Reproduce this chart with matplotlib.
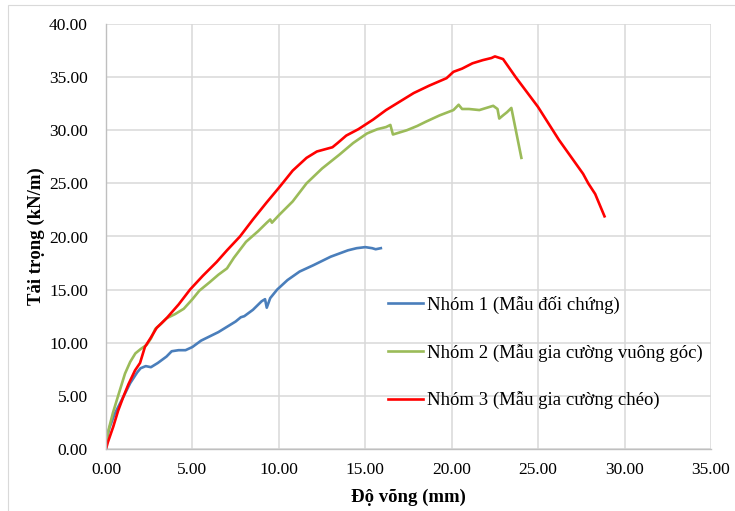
import matplotlib
matplotlib.use("Agg")
import matplotlib.pyplot as plt
from matplotlib.patches import Rectangle

# ---- data ----
blue_x = [0, 0.05, 0.2, 0.5, 1.0, 1.4, 1.8, 2.0, 2.3, 2.6, 3.0, 3.5, 3.8, 4.2, 4.6, 5.0, 5.5, 6.0, 6.5,
          7.0, 7.5, 7.8, 8.0, 8.5, 9.0, 9.2, 9.3, 9.5, 9.9, 10.5, 11.2, 12.0, 12.5, 13.0, 13.5, 14.0,
          14.5, 15.0, 15.4, 15.6, 15.9]
blue_y = [0, 1.0, 2.0, 3.3, 4.9, 6.2, 7.2, 7.6, 7.8, 7.7, 8.1, 8.7, 9.2, 9.3, 9.3, 9.6, 10.2, 10.6, 11.0,
          11.5, 12.0, 12.4, 12.5, 13.1, 13.9, 14.1, 13.3, 14.2, 15.0, 15.9, 16.7, 17.3, 17.7, 18.1, 18.4, 18.7,
          18.9, 19.0, 18.9, 18.8, 18.9]

green_x = [0, 0.1, 0.4, 0.7, 1.1, 1.4, 1.7, 2.0, 2.35, 2.6, 2.85, 3.2, 3.5, 4.0, 4.5, 5.0, 5.4, 6.0, 6.5,
           7.0, 7.4, 8.1, 8.8, 9.3, 9.5, 9.6, 10.0, 10.8, 11.6, 12.5, 13.5, 14.3, 15.1, 15.7, 16.2, 16.45,
           16.6, 17.0, 17.4, 18.0, 18.5, 19.3, 20.1, 20.4, 20.6, 21.0, 21.6, 22.0, 22.4, 22.65, 22.75,
           22.97, 23.2, 23.45, 24.03]
green_y = [0.5, 1.5, 3.4, 5.0, 7.1, 8.2, 9.0, 9.4, 9.8, 10.4, 11.3, 11.8, 12.3, 12.7, 13.2, 14.1, 14.9, 15.7, 16.4,
           17.0, 18.0, 19.5, 20.5, 21.3, 21.6, 21.3, 22.0, 23.3, 25.0, 26.4, 27.7, 28.8, 29.7, 30.1, 30.3, 30.5,
           29.6, 29.8, 30.0, 30.4, 30.8, 31.4, 31.9, 32.4, 32.0, 32.0, 31.9, 32.1, 32.3, 32.0, 31.1,
           31.4, 31.7, 32.1, 27.4]

red_x = [0, 0.1, 0.42, 0.7, 1.0, 1.3, 1.68, 1.97, 2.25, 2.6, 2.93, 3.5, 4.2, 4.86, 5.6, 6.4, 7.0, 7.75, 8.5,
         9.29, 10.06, 10.8, 11.6, 12.2, 13.1, 13.4, 13.9, 14.6, 15.45, 16.2, 17.0, 17.8, 18.7, 19.7, 20.1,
         20.6, 21.2, 21.8, 22.3, 22.5, 22.97, 23.7, 24.99, 26.2, 27.6, 27.9, 28.3, 28.84]
red_y = [0, 0.6, 2.1, 3.6, 4.9, 6.1, 7.4, 8.1, 9.6, 10.5, 11.4, 12.3, 13.6, 15.0, 16.3, 17.6, 18.7, 20.0, 21.6,
         23.2, 24.7, 26.2, 27.4, 28.0, 28.4, 28.8, 29.5, 30.1, 31.0, 31.9, 32.7, 33.5, 34.2, 34.9, 35.5,
         35.8, 36.3, 36.6, 36.8, 36.95, 36.7, 35.0, 32.2, 29.1, 25.9, 25.0, 24.0, 21.9]

labels = ["Nhóm 1 (Mẫu đối chứng)", "Nhóm 2 (Mẫu gia cường vuông góc)", "Nhóm 3 (Mẫu gia cường chéo)"]
x_ticks = [0, 5, 10, 15, 20, 25, 30, 35]
y_ticks = [0, 5, 10, 15, 20, 25, 30, 35, 40]
x_title = "Độ võng (mm)"
y_title = "Tải trọng (kN/m)"

# ---- figure ----
plt.rcParams['font.family'] = ['Liberation Serif', 'DejaVu Serif']
W, H = 735, 511
fig = plt.figure(figsize=(W / 100, H / 100), dpi=100)
fig.patches.append(Rectangle((8 / W, -0.01), 1.0, 1 - 5 / H + 0.01, transform=fig.transFigure,
                             fill=False, edgecolor='#d9d9d9', linewidth=0.8))
ax = fig.add_axes([106 / W, 1 - 449 / H, (711 - 106) / W, (449 - 24) / H])

ax.plot(blue_x, blue_y, color='#4a7ebb', lw=1.9, label=labels[0])
ax.plot(green_x, green_y, color='#9bbb59', lw=1.9, label=labels[1])
ax.plot(red_x, red_y, color='#ff0000', lw=1.9, label=labels[2])

ax.set_xlim(0, 35)
ax.set_ylim(0, 40)
ax.set_xticks(x_ticks)
ax.set_yticks(y_ticks)
ax.set_xticklabels([f"{v:.2f}" for v in x_ticks], fontsize=12.5)
ax.set_yticklabels([f"{v:.2f}" for v in y_ticks], fontsize=12.5)
ax.tick_params(length=0, pad=9)
ax.tick_params(axis='y', pad=13)
ax.grid(True, color='#d9d9d9', linewidth=1.1)
ax.set_axisbelow(True)
for s in ['top', 'right']:
    ax.spines[s].set_visible(False)
for s in ['left', 'bottom']:
    ax.spines[s].set_color('#bfbfbf')
    ax.spines[s].set_linewidth(1.0)

ax.set_xlabel(x_title, fontsize=13.5, fontweight='bold', labelpad=8)
ax.set_ylabel(y_title, fontsize=13.5, fontweight='bold', labelpad=3)

leg = ax.legend(loc='upper left', bbox_to_anchor=((388 - 106) / (711 - 106), (449 - 296) / (449 - 24)),
                frameon=False, fontsize=13.5, handlelength=1.87, handletextpad=0.22, labelspacing=1.58,
                borderaxespad=0, borderpad=0)

fig.savefig("out.png", dpi=100)
